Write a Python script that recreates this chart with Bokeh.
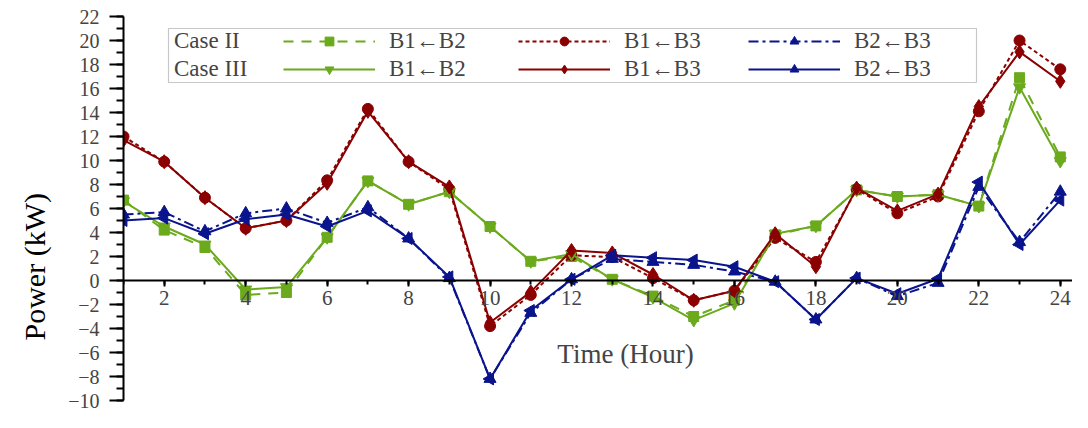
import math
from bokeh.plotting import figure
from bokeh.models import (Legend, LegendItem, Range1d, SingleIntervalTicker,
                          BoxAnnotation, Node, Label, Title)
from bokeh.embed import file_html
from bokeh.resources import INLINE

hours = list(range(1, 25))

case2_b1_b2 = [6.7, 4.2, 2.75, -1.2, -1.0, 3.6, 8.3, 6.35, 7.4, 4.5, 1.6, 2.0,
               0.1, -1.3, -3.0, -1.65, 3.8, 4.55, 7.55, 7.0, 7.15, 6.2, 16.9, 10.3]
case3_b1_b2 = [6.6, 4.5, 3.0, -0.75, -0.55, 3.6, 8.3, 6.35, 7.4, 4.5, 1.6, 2.2,
               0.1, -1.4, -3.3, -1.9, 3.9, 4.55, 7.55, 7.0, 7.15, 6.2, 16.1, 9.95]
case2_b1_b3 = [12.0, 9.9, 6.9, 4.35, 5.0, 8.35, 14.3, 9.9, 7.6, -3.8, -1.2, 2.1,
               1.95, 0.2, -1.65, -0.85, 3.55, 1.55, 7.6, 5.6, 7.0, 14.1, 20.0, 17.6]
case3_b1_b3 = [11.7, 9.9, 6.9, 4.35, 5.0, 8.1, 14.1, 9.9, 7.8, -3.5, -0.95, 2.5,
               2.3, 0.5, -1.65, -0.85, 3.9, 1.15, 7.7, 5.8, 7.2, 14.5, 19.05, 16.6]
case2_b2_b3 = [5.5, 5.7, 4.1, 5.6, 6.0, 4.8, 6.1, 3.5, 0.2, -8.2, -2.7, 0.1,
               1.8, 1.55, 1.3, 0.75, -0.1, -3.25, 0.2, -1.3, -0.2, 7.8, 3.2, 7.4]
case3_b2_b3 = [5.0, 5.2, 3.9, 5.1, 5.5, 4.5, 5.8, 3.5, 0.3, -8.2, -2.5, 0.1,
               2.1, 1.9, 1.7, 1.15, -0.1, -3.25, 0.2, -1.1, 0.15, 8.2, 3.0, 6.7]

case_labels = ["Case II", "Case III"]
flow_labels = ["B1\u2190B2", "B1\u2190B3", "B2\u2190B3"]
x_title = "Time (Hour)"
y_title = "Power (kW)"

GREEN = "#6aaa1c"
RED = "#8b0000"
BLUE = "#0a148c"
FONT = "Liberation Serif"

W, H = 1072, 412
BL, BR, BT, BB = 123, 0, 16, 12
FRAME_H = H - BT - BB

p = figure(width=W, height=H, output_backend="svg", toolbar_location=None,
           x_range=Range1d(1, 24.3), y_range=Range1d(-10, 22),
           min_border_left=BL, min_border_right=BR, min_border_top=BT,
           min_border_bottom=BB)
p.outline_line_color = None
p.grid.visible = False
p.background_fill_color = "white"

# axes
xa = p.xaxis[0]
xa.fixed_location = 0
xa.ticker = SingleIntervalTicker(interval=2, num_minor_ticks=2)
xa.major_label_text_font = FONT
xa.major_label_text_font_size = "21px"
xa.major_label_standoff = 4
xa.axis_line_width = 2
xa.major_tick_line_width = 2
xa.minor_tick_line_width = 2
xa.major_tick_out = 6
xa.major_tick_in = 0
xa.minor_tick_out = 4
xa.minor_tick_in = 0

ya = p.yaxis[0]
ya.ticker = SingleIntervalTicker(interval=2, num_minor_ticks=2)
ya.major_label_text_font = FONT
ya.major_label_text_font_size = "20px"
ya.major_label_standoff = 10
ya.axis_line_width = 2
ya.major_tick_line_width = 2
ya.minor_tick_line_width = 2
ya.major_tick_out = 14
ya.major_tick_in = 0
ya.minor_tick_out = 7
ya.minor_tick_in = 0

# y axis title, set lower like the reference
p.add_layout(Title(text=y_title, align="left", offset=60,
                   vertical_align="middle", standoff=28, text_font=FONT,
                   text_font_size="30px", text_font_style="normal",
                   text_color="black"), "left")

# x axis title placed like the reference
p.add_layout(Label(x=502, y=FRAME_H - (353 - BT), x_units="screen",
                   y_units="screen", text=x_title, text_font=FONT,
                   text_font_size="27px", text_align="center",
                   text_baseline="middle"))

LW = 2
series = [
    # (values, color, dash, marker, size, angle)
    (case2_b1_b2, GREEN, "10 8", "square", 10, 0.0),
    (case2_b1_b3, RED, "4 3", "circle", 11, 0.0),
    (case2_b2_b3, BLUE, "10 4 3 4", "triangle", 12, 0.0),
    (case3_b1_b2, GREEN, "solid", "inverted_triangle", 12, 0.0),
    (case3_b1_b3, RED, "solid", "diamond", 14, 0.0),
    (case3_b2_b3, BLUE, "solid", "triangle", 12, math.pi / 2),
]

renderers = []
for vals, col, dash, marker, size, ang in series:
    ln = p.line(hours, vals, line_color=col, line_width=LW, line_dash=dash)
    sc = p.scatter(hours, vals, marker=marker, size=size, angle=ang,
                   fill_color=col, line_color=col)
    renderers.append([ln, sc])

# legend frame
box = BoxAnnotation(left=Node(target="frame", symbol="left", offset=45),
                    right=Node(target="frame", symbol="left", offset=853),
                    top=Node(target="frame", symbol="top", offset=12),
                    bottom=Node(target="frame", symbol="top", offset=66),
                    fill_color="white", fill_alpha=1.0,
                    line_color="#444444", line_width=1.2)
p.add_layout(box)

dummy = p.line(x=[], y=[], line_alpha=0)

ROW_BOTTOM = FRAME_H - 66


def make_legend(items, x, gw, standoff):
    lg = Legend(items=items, location=(x, ROW_BOTTOM), orientation="vertical",
                glyph_width=gw, glyph_height=22, label_standoff=standoff,
                spacing=2, padding=1, margin=0, border_line_color=None,
                background_fill_alpha=0, label_text_font=FONT,
                label_text_font_size="23px", label_height=22)
    p.add_layout(lg)
    return lg


make_legend([LegendItem(label=case_labels[0], renderers=[dummy]),
             LegendItem(label=case_labels[1], renderers=[dummy])],
            50, 1, 0)
col_x = [160, 395, 625]
for i in range(3):
    make_legend([LegendItem(label=flow_labels[i], renderers=renderers[i]),
                 LegendItem(label=flow_labels[i], renderers=renderers[i + 3])],
                col_x[i], 92, 14)

open("out.html", "w").write(file_html(p, INLINE))
